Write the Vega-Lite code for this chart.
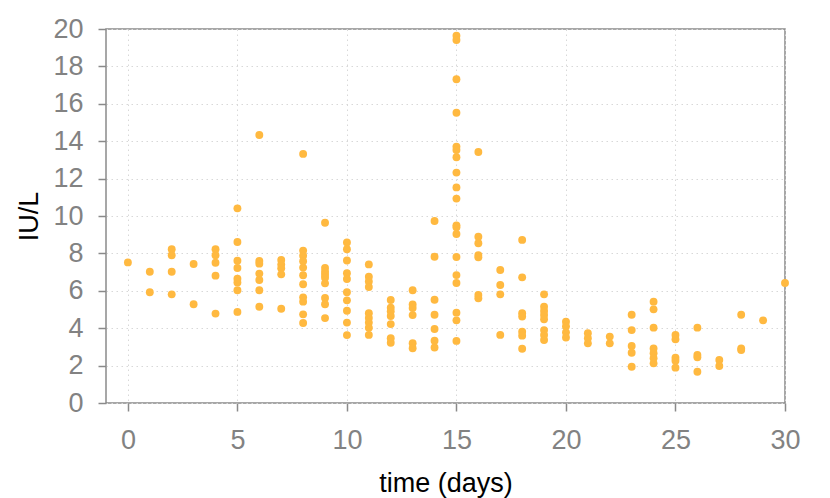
{
  "$schema": "https://vega.github.io/schema/vega-lite/v6.json",
  "width": 679,
  "height": 374,
  "autosize": {"type": "none"},
  "padding": {"left": 106, "top": 29, "right": 45, "bottom": 95},
  "background": "white",
  "config": {
    "view": {"stroke": "#8a8a8a", "strokeWidth": 1.5},
    "font": "Liberation Sans",
    "axis": {
      "domain": false,
      "tickColor": "#8a8a8a",
      "tickWidth": 1.5,
      "tickSize": 8,
      "labelColor": "#828282",
      "labelFontSize": 27,
      "labelFont": "Liberation Sans",
      "titleFont": "Liberation Sans",
      "titleFontSize": 27,
      "titleFontWeight": "normal",
      "titleColor": "#000000",
      "gridColor": "#d8d8d8",
      "gridDash": [1.5, 3.5],
      "gridWidth": 1
    }
  },
  "data": {
    "values": [
      {"day": 0, "v": 7.52},
      {"day": 1, "v": 7.02}, {"day": 1, "v": 5.92},
      {"day": 2, "v": 8.22}, {"day": 2, "v": 7.9}, {"day": 2, "v": 7.02}, {"day": 2, "v": 5.81},
      {"day": 3, "v": 7.43}, {"day": 3, "v": 5.28},
      {"day": 4, "v": 8.22}, {"day": 4, "v": 7.9}, {"day": 4, "v": 7.5}, {"day": 4, "v": 6.81}, {"day": 4, "v": 4.78},
      {"day": 5, "v": 10.41}, {"day": 5, "v": 8.61}, {"day": 5, "v": 7.61}, {"day": 5, "v": 7.22}, {"day": 5, "v": 6.65}, {"day": 5, "v": 6.45}, {"day": 5, "v": 6.03}, {"day": 5, "v": 4.87},
      {"day": 6, "v": 14.33}, {"day": 6, "v": 7.6}, {"day": 6, "v": 7.45}, {"day": 6, "v": 6.92}, {"day": 6, "v": 6.58}, {"day": 6, "v": 6.03}, {"day": 6, "v": 5.15},
      {"day": 7, "v": 7.65}, {"day": 7, "v": 7.4}, {"day": 7, "v": 7.2}, {"day": 7, "v": 6.88}, {"day": 7, "v": 5.04},
      {"day": 8, "v": 13.32}, {"day": 8, "v": 8.15}, {"day": 8, "v": 7.88}, {"day": 8, "v": 7.58}, {"day": 8, "v": 7.24}, {"day": 8, "v": 6.83}, {"day": 8, "v": 6.35}, {"day": 8, "v": 5.65}, {"day": 8, "v": 5.42}, {"day": 8, "v": 4.74}, {"day": 8, "v": 4.28},
      {"day": 9, "v": 9.64}, {"day": 9, "v": 7.22}, {"day": 9, "v": 7.02}, {"day": 9, "v": 6.86}, {"day": 9, "v": 6.7}, {"day": 9, "v": 6.4}, {"day": 9, "v": 5.62}, {"day": 9, "v": 5.28}, {"day": 9, "v": 4.54},
      {"day": 10, "v": 8.58}, {"day": 10, "v": 8.22}, {"day": 10, "v": 7.62}, {"day": 10, "v": 6.94}, {"day": 10, "v": 6.63}, {"day": 10, "v": 5.92}, {"day": 10, "v": 5.49}, {"day": 10, "v": 4.93}, {"day": 10, "v": 4.3}, {"day": 10, "v": 3.63},
      {"day": 11, "v": 7.41}, {"day": 11, "v": 6.75}, {"day": 11, "v": 6.5}, {"day": 11, "v": 6.2}, {"day": 11, "v": 4.8}, {"day": 11, "v": 4.55}, {"day": 11, "v": 4.3}, {"day": 11, "v": 4.03}, {"day": 11, "v": 3.64},
      {"day": 12, "v": 5.51}, {"day": 12, "v": 5.1}, {"day": 12, "v": 4.9}, {"day": 12, "v": 4.65}, {"day": 12, "v": 4.22}, {"day": 12, "v": 3.46}, {"day": 12, "v": 3.22},
      {"day": 13, "v": 6.03}, {"day": 13, "v": 5.27}, {"day": 13, "v": 5.08}, {"day": 13, "v": 4.7}, {"day": 13, "v": 3.2}, {"day": 13, "v": 2.93},
      {"day": 14, "v": 9.73}, {"day": 14, "v": 7.82}, {"day": 14, "v": 5.52}, {"day": 14, "v": 4.72}, {"day": 14, "v": 3.96}, {"day": 14, "v": 3.33}, {"day": 14, "v": 2.97},
      {"day": 15, "v": 19.64}, {"day": 15, "v": 19.41}, {"day": 15, "v": 17.31}, {"day": 15, "v": 15.52}, {"day": 15, "v": 13.71}, {"day": 15, "v": 13.53}, {"day": 15, "v": 13.14}, {"day": 15, "v": 12.32}, {"day": 15, "v": 11.53}, {"day": 15, "v": 10.93}, {"day": 15, "v": 9.5}, {"day": 15, "v": 9.4}, {"day": 15, "v": 9.04}, {"day": 15, "v": 7.81}, {"day": 15, "v": 6.84}, {"day": 15, "v": 6.42}, {"day": 15, "v": 4.83}, {"day": 15, "v": 4.42}, {"day": 15, "v": 3.32},
      {"day": 16, "v": 13.42}, {"day": 16, "v": 8.89}, {"day": 16, "v": 8.54}, {"day": 16, "v": 7.91}, {"day": 16, "v": 7.79}, {"day": 16, "v": 5.78}, {"day": 16, "v": 5.6},
      {"day": 17, "v": 7.11}, {"day": 17, "v": 6.31}, {"day": 17, "v": 5.81}, {"day": 17, "v": 3.64},
      {"day": 18, "v": 8.72}, {"day": 18, "v": 6.72}, {"day": 18, "v": 4.8}, {"day": 18, "v": 4.62}, {"day": 18, "v": 3.81}, {"day": 18, "v": 3.6}, {"day": 18, "v": 2.9},
      {"day": 19, "v": 5.81}, {"day": 19, "v": 5.15}, {"day": 19, "v": 4.92}, {"day": 19, "v": 4.71}, {"day": 19, "v": 4.48}, {"day": 19, "v": 3.9}, {"day": 19, "v": 3.64}, {"day": 19, "v": 3.37},
      {"day": 20, "v": 4.35}, {"day": 20, "v": 4.1}, {"day": 20, "v": 3.78}, {"day": 20, "v": 3.5},
      {"day": 21, "v": 3.73}, {"day": 21, "v": 3.46}, {"day": 21, "v": 3.19},
      {"day": 22, "v": 3.55}, {"day": 22, "v": 3.19},
      {"day": 23, "v": 4.72}, {"day": 23, "v": 3.9}, {"day": 23, "v": 3.05}, {"day": 23, "v": 2.69}, {"day": 23, "v": 1.94},
      {"day": 24, "v": 5.42}, {"day": 24, "v": 5.01}, {"day": 24, "v": 4.03}, {"day": 24, "v": 2.92}, {"day": 24, "v": 2.66}, {"day": 24, "v": 2.39}, {"day": 24, "v": 2.12},
      {"day": 25, "v": 3.64}, {"day": 25, "v": 3.41}, {"day": 25, "v": 2.42}, {"day": 25, "v": 2.26}, {"day": 25, "v": 1.89},
      {"day": 26, "v": 4.03}, {"day": 26, "v": 2.57}, {"day": 26, "v": 2.44}, {"day": 26, "v": 1.67},
      {"day": 27, "v": 2.3}, {"day": 27, "v": 1.98},
      {"day": 28, "v": 4.72}, {"day": 28, "v": 2.92}, {"day": 28, "v": 2.83},
      {"day": 29, "v": 4.42},
      {"day": 30, "v": 6.42}
    ]
  },
  "mark": {"type": "circle", "size": 62, "color": "#FFB940", "opacity": 1},
  "encoding": {
    "x": {
      "field": "day", "type": "quantitative", "title": "time (days)",
      "scale": {"domain": [-1, 30], "nice": false, "zero": false},
      "axis": {"values": [0, 5, 10, 15, 20, 25, 30], "labelPadding": 16, "titlePadding": 17, "labelFlush": false}
    },
    "y": {
      "field": "v", "type": "quantitative", "title": "IU/L",
      "scale": {"domain": [0, 20], "nice": false},
      "axis": {"values": [0, 2, 4, 6, 8, 10, 12, 14, 16, 18, 20], "labelPadding": 15, "titlePadding": 9, "labelFlush": false}
    }
  }
}
